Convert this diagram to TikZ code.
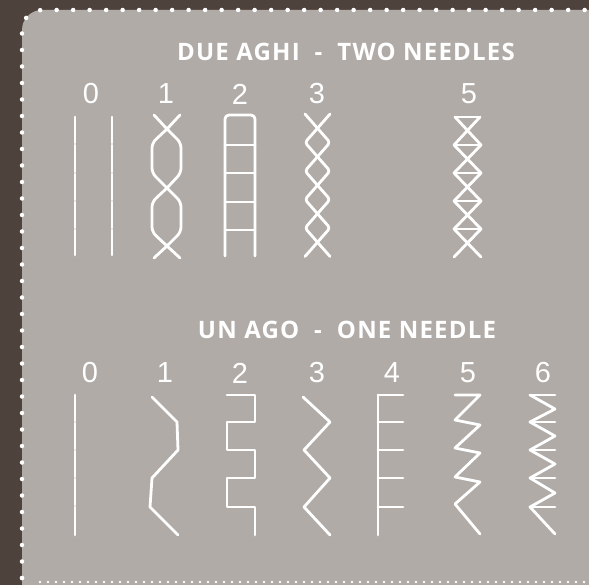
\documentclass[tikz,border=0pt]{standalone}
\usepackage{fontspec}
\newfontfamily\titlefont{Open Sans}[LetterSpace=5]
\newfontfamily\numfont{Liberation Sans}
\definecolor{leather}{RGB}{78,67,60}
\definecolor{panel}{RGB}{176,171,167}
\tikzset{
  stitch/.style={white, line width=2.8pt, line cap=round, line join=round},
  title/.style={white, font=\titlefont\bfseries\fontsize{24}{24}\selectfont, inner sep=0pt, anchor=center},
  num/.style={white, font=\numfont\fontsize{29}{29}\selectfont, inner sep=0pt, anchor=center},
  dotsb/.style={white, line width=4.5pt, line cap=round, dash pattern=on 0pt off 16.5pt},
}
\begin{document}
\begin{tikzpicture}[x=1pt,y=-1pt]
\useasboundingbox (0,0) rectangle (589,585);
\fill[leather] (0,0) rectangle (589,585);
\fill[panel, rounded corners=20pt] (22,10) rectangle (640,640);
\fill[panel] (22,300) rectangle (589,585);
% dotted border
\draw[dotsb, rounded corners=20pt] (22,578) -- (22,10) -- (640,10);
\draw[white, line width=2.6pt, line cap=round, dash pattern=on 0pt off 8pt] (40,582) -- (589,582);
\draw[dotsb] (22,578) .. controls (22,580) and (26,582) .. (30,582);
% titles
\node[title] (t1) at (346,52) {DUE AGHI\hspace{15pt}-\hspace{15pt}TWO NEEDLES};
\node[title] (t2) at (347,330) {UN AGO\hspace{15pt}-\hspace{15pt}ONE NEEDLE};
% top numbers
\node[num] (a0) at (91,94) {0};
\node[num] (a1) at (166,94) {1};
\node[num] (a2) at (240,94) {2};
\node[num] (a3) at (317,94) {3};
\node[num] (a5) at (469,94) {5};
% bottom numbers
\node[num] (b0) at (90,373) {0};
\node[num] (b1) at (165,373) {1};
\node[num] (b2) at (240,373) {2};
\node[num] (b3) at (317,373) {3};
\node[num] (b4) at (392,373) {4};
\node[num] (b5) at (468,373) {5};
\node[num] (b6) at (543,373) {6};
% ---- top row stitches
% 0: two straight lines
\foreach \x in {75,112}{
  \foreach \ya/\yb in {117/143,145/172,174/200,202/228,230/255}{
    \draw[stitch] (\x,\ya) -- (\x,\yb);
  }
}
% 1: two crossing strands
\draw[stitch, rounded corners=5pt] (154,115) -- (167,129) -- (181,143) -- (181,173) -- (167,188) -- (152,202) -- (152,232) -- (167,246) -- (180,258);
\draw[stitch, rounded corners=5pt] (180,115) -- (167,129) -- (152,143) -- (152,173) -- (167,188) -- (181,202) -- (181,232) -- (167,246) -- (154,258);
% 2: ladder
\draw[stitch, rounded corners=4pt] (225,256) -- (225,115) -- (255,115) -- (255,256);
\foreach \y in {145,173,202,230}{ \draw[stitch] (225,\y) -- (255,\y); }
% 3: chain of crosses
\draw[stitch, rounded corners=3pt] (305,114) -- (330,142.5) -- (305,171) -- (330,199.5) -- (305,228) -- (330,256.5);
\draw[stitch, rounded corners=3pt] (330,114) -- (305,142.5) -- (330,171) -- (305,199.5) -- (330,228) -- (305,256.5);
% 5: crosses with bars
\draw[stitch] (455,117) -- (480,117);
\draw[stitch] (455,117) -- (481,145) -- (454,173) -- (481,201) -- (454,229) -- (481,257);
\draw[stitch] (480,117) -- (454,145) -- (481,173) -- (454,201) -- (481,229) -- (454,257);
\foreach \y in {145,173,201,229}{ \draw[stitch] (454,\y) -- (481,\y); }
% ---- bottom row stitches
% 0
\foreach \ya/\yb in {395/421,423/449,451/477,479/505,507/535}{
  \draw[stitch] (75,\ya) -- (75,\yb);
}
% 1
\draw[stitch] (152,397) -- (177,422) -- (178,450) -- (152,478) -- (150,507) -- (178,535);
% 2
\draw[stitch] (227,395) -- (255,395) -- (255,422) -- (227,422) -- (227,450) -- (255,450) -- (255,478) -- (227,478) -- (227,507) -- (255,507) -- (255,535);
% 3
\draw[stitch] (303,397) -- (330,422) -- (304,450) -- (330,478) -- (304,507) -- (330,535);
% 4
\draw[stitch] (378,395) -- (378,535);
\foreach \y in {395,422,450,478,507}{ \draw[stitch] (378,\y) -- (403,\y); }
% 5
\draw[stitch] (455,395) -- (480,395) -- (455,420) -- (480,425) -- (455,448) -- (480,453) -- (455,477) -- (480,482) -- (455,504) -- (480,534);
% 6
\foreach \y in {395,422,450,478,507}{ \draw[stitch] (530,\y) -- (555,\y); }
\draw[stitch] (530,395) -- (555,409) -- (530,422) -- (555,436) -- (530,450) -- (555,464) -- (530,478) -- (555,493) -- (530,507) -- (555,534);
\end{tikzpicture}
\end{document}
